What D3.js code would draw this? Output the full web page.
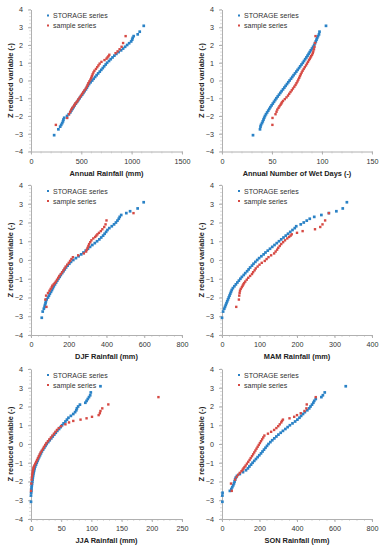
<!DOCTYPE html>
<html>
<head>
<meta charset="utf-8">
<script src="https://cdn.jsdelivr.net/npm/d3@7"></script>
<style>
  body { margin: 0; background: #fff; }
  svg { font-family: "Liberation Sans", Arial, sans-serif; }
  .tick text { fill: #333; font-size: 7.2px; }
  .axis path, .axis line { stroke: #b0b0b0; }
</style>
</head>
<body>
<div id="chart"></div>
<script>
// reduced variate (z) of each plotted point, shared by every panel
var zStorage = [-3.08, -2.75, -2.6, -2.5, -2.4, -2.3, -2.2, -2.1, -2.0, -1.9, -1.8, -1.7, -1.6, -1.5, -1.4, -1.3, -1.2, -1.1, -1.0,
  -0.9, -0.8, -0.7, -0.6, -0.5, -0.4, -0.3, -0.2, -0.1, 0, 0.1, 0.2, 0.3, 0.4, 0.5, 0.6, 0.7, 0.8, 0.9, 1.0,
  1.1, 1.2, 1.3, 1.4, 1.5, 1.6, 1.7, 1.8, 1.9, 2.0, 2.1, 2.2, 2.3, 2.4, 2.5, 2.6, 2.75, 3.08];
var zSample = [-2.5, -2.11, -1.9, -1.76, -1.64, -1.54, -1.45, -1.37, -1.3, -1.23, -1.15, -1.05, -0.95, -0.85, -0.75,
  -0.65, -0.55, -0.45, -0.35, -0.25, -0.15, -0.05, 0.05, 0.15, 0.25, 0.35, 0.45, 0.55, 0.65, 0.75, 0.85, 0.95,
  1.05, 1.15, 1.23, 1.3, 1.37, 1.45, 1.54, 1.64, 1.76, 1.9, 2.11, 2.5];

// Annual rainfall (mm)
var annualStorage = [230, 272, 290, 300, 310, 318, 322, 330, 358, 375, 390, 400, 412, 423, 434, 445, 458, 470, 483,
  495, 508, 520, 532, 545, 555, 565, 577, 592, 608, 622, 637, 652, 667, 683, 698, 713, 727, 742, 756,
  775, 792, 810, 828, 848, 870, 895, 915, 935, 955, 975, 995, 1005, 1010, 1020, 1060, 1080, 1120];
var annualSample = [247, 360, 378, 390, 400, 410, 425, 432, 440, 452, 462, 472, 485, 497, 508,
  520, 532, 545, 555, 563, 570, 580, 590, 598, 605, 612, 620, 630, 645, 658, 670, 682,
  700, 730, 750, 760, 770, 778, 840, 860, 880, 900, 915, 940];

// Annual number of wet days
var wetStorage = [31, 38, 38.5, 39, 40, 40.8, 41.5, 42.2, 43, 44, 45.1, 46.2, 47.3, 48.4, 49.6, 50.8, 52, 53.2, 54.4,
  55.7, 57, 58.3, 59.6, 61, 62.3, 63.6, 65, 66.3, 67.6, 69, 70.3, 71.6, 73, 74.3, 75.6, 77, 78.2, 79.5, 80.8,
  82, 83.2, 84.4, 85.5, 86.6, 87.7, 88.8, 90, 91.1, 92.2, 93, 93.8, 94.5, 95.2, 96, 97, 97.5, 104];
var wetSample = [50.4, 50.5, 53.5, 54.5, 55.3, 56.5, 57.5, 58.5, 59.3, 60, 61, 62.8, 64.5, 66, 67.2,
  68.5, 69.8, 71, 72.3, 73.5, 74.5, 75.5, 76.3, 77.2, 78, 78.8, 79.7, 80.6, 81.7, 82.8, 84, 85,
  86, 87, 87.8, 88.5, 89.2, 90, 90.8, 91.3, 92, 92.5, 93, 93.5];

// DJF rainfall (mm)
var djfStorage = [57, 62, 68, 72, 74, 77, 79, 83, 90, 95, 100, 106, 111, 116, 121, 127, 133, 139, 145,
  152, 158, 165, 172, 179, 186, 194, 203, 212, 224, 238, 252, 266, 278, 290, 302, 313, 325, 338, 350,
  362, 372, 382, 390, 398, 405, 415, 428, 440, 450, 458, 465, 470, 478, 505, 525, 565, 597];
var djfSample = [82, 76, 80, 90, 98, 104, 110, 113, 120, 126, 132, 138, 144, 150, 158,
  165, 172, 178, 184, 192, 200, 207, 214, 222, 250, 280, 292, 296, 300, 304, 308, 314,
  320, 330, 340, 346, 352, 360, 370, 378, 388, 395, 400, 543];

// MAM rainfall (mm)
var mamStorage = [0, 3, 6, 8, 10, 12, 14, 16, 18, 20, 22, 24, 26, 29, 33, 37, 41, 45, 49,
  53, 58, 62, 67, 71, 75, 80, 84, 89, 94, 99, 105, 111, 116, 122, 128, 134, 140, 146, 152,
  158, 164, 170, 176, 182, 188, 194, 198, 210, 218, 226, 234, 246, 265, 285, 305, 322, 333];
var mamSample = [38, 45, 46, 47, 48, 50, 53, 55, 57, 59, 62, 66, 70, 75, 80,
  83, 87, 90, 95, 100, 106, 114, 119, 124, 131, 139, 143, 147, 150, 154, 158, 163,
  168, 174, 179, 183, 186, 200, 215, 248, 262, 268, 275, 285];

// JJA rainfall (mm)
var jjaStorage = [0, 0, 0.3, 0.6, 0.8, 1, 1.4, 1.8, 2.2, 2.6, 3, 3.4, 4, 4.6, 5.3, 6, 7, 8.3, 9.5,
  10.8, 12, 13.5, 15, 16.5, 18, 20, 22, 24, 26, 28.5, 31, 33.5, 36, 38.5, 41, 43.5, 46.5, 49, 51.5,
  54, 57, 59.5, 62, 66, 70, 73, 75, 76, 78, 81, 90, 92, 94, 96, 98, 99, 115];
var jjaSample = [0, 0.5, 1, 1.5, 2, 2.5, 3, 3.5, 4, 4.5, 5.5, 7, 8.5, 10, 11.5,
  13, 14.5, 16, 18, 20, 21.5, 23.5, 25.5, 28, 30.5, 33, 35.5, 38, 40.5, 43, 46, 50,
  57, 63, 70, 82, 92, 101, 112, 114, 115, 118, 128, 211];

// SON rainfall (mm)
var sonStorage = [2, 2, 3, 42, 50, 55, 60, 64, 67, 70, 73, 80, 95, 112, 128, 138, 146, 155, 163,
  172, 181, 190, 199, 208, 216, 224, 232, 240, 248, 258, 268, 279, 290, 301, 313, 325, 338, 350, 362,
  376, 390, 402, 413, 422, 432, 442, 455, 465, 472, 480, 487, 492, 500, 530, 538, 548, 660];
var sonSample = [52, 48, 70, 78, 86, 95, 104, 110, 115, 120, 126, 133, 140, 147, 153,
  160, 166, 172, 178, 184, 190, 196, 202, 208, 214, 220, 226, 245, 262, 278, 290, 300,
  308, 316, 320, 325, 360, 385, 400, 420, 440, 450, 452, 500];

var yTicks = [-4, -3, -2, -1, 0, 1, 2, 3, 4];
var seriesNames = ["STORAGE series", "sample series"];
var seriesColors = ["#2a82c6", "#d64a44"];

var panels = [
  {title: "Annual Rainfall (mm)", max: 1500, step: 500, storage: annualStorage, sample: annualSample, col: 0, row: 0},
  {title: "Annual Number of Wet Days (-)", max: 150, step: 50, storage: wetStorage, sample: wetSample, col: 1, row: 0},
  {title: "DJF Rainfall (mm)", max: 800, step: 200, storage: djfStorage, sample: djfSample, col: 0, row: 1},
  {title: "MAM Rainfall (mm)", max: 400, step: 100, storage: mamStorage, sample: mamSample, col: 1, row: 1},
  {title: "JJA Rainfall (mm)", max: 250, step: 50, storage: jjaStorage, sample: jjaSample, col: 0, row: 2},
  {title: "SON Rainfall (mm)", max: 800, step: 200, storage: sonStorage, sample: sonSample, col: 1, row: 2}
];

// plot areas of the grid
var colX = [[31, 182], [222, 372]];
var rowY = [[9.5, 151.5], [185, 335], [369, 519]];

var svg = d3.select("#chart").append("svg")
    .attr("width", 385)
    .attr("height", 550);

panels.forEach(function(p) {
  var x0 = colX[p.col][0], x1 = colX[p.col][1];
  var y0 = rowY[p.row][0], y1 = rowY[p.row][1];

  var x = d3.scaleLinear().domain([0, p.max]).range([x0, x1]);
  var y = d3.scaleLinear().domain([-4, 4]).range([y1, y0]);
  var xTicks = d3.range(0, p.max + p.step / 2, p.step);
  var xMinor = d3.range(0, p.max + p.step / 10, p.step / 5);
  var yMinor = d3.range(-4, 4.01, 0.2);

  var g = svg.append("g");

  // minor ticks
  g.append("g").selectAll("line").data(xMinor).enter().append("line")
      .attr("x1", function(d) { return x(d); }).attr("x2", function(d) { return x(d); })
      .attr("y1", y1).attr("y2", y1 + 2)
      .attr("stroke", "#c8c8c8").attr("stroke-width", 0.6);
  g.append("g").selectAll("line").data(yMinor).enter().append("line")
      .attr("y1", function(d) { return y(d); }).attr("y2", function(d) { return y(d); })
      .attr("x1", x0 - 2).attr("x2", x0)
      .attr("stroke", "#c8c8c8").attr("stroke-width", 0.6);

  // X axis
  g.append("g")
      .attr("class", "axis")
      .attr("transform", "translate(0," + y1 + ")")
      .call(d3.axisBottom(x).tickValues(xTicks).tickFormat(d3.format("d"))
        .tickSize(3).tickSizeOuter(0).tickPadding(4));

  // Y axis
  g.append("g")
      .attr("class", "axis")
      .attr("transform", "translate(" + x0 + ",0)")
      .call(d3.axisLeft(y).tickValues(yTicks).tickSize(3).tickSizeOuter(0).tickPadding(5));

  // axis titles
  g.append("text")
      .attr("x", (x0 + x1) / 2)
      .attr("y", y1 + 24)
      .attr("text-anchor", "middle")
      .style("font-size", "7.4px")
      .style("font-weight", "bold")
      .style("fill", "#222")
      .text(p.title);

  g.append("text")
      .attr("transform", "rotate(-90)")
      .attr("x", -(y0 + y1) / 2)
      .attr("y", x0 - 18)
      .attr("text-anchor", "middle")
      .style("font-size", "7.4px")
      .style("font-weight", "bold")
      .style("fill", "#222")
      .text("Z reduced variable (-)");

  // points
  var sets = [
    {vals: p.storage, z: zStorage, color: seriesColors[0], s: 2.7},
    {vals: p.sample, z: zSample, color: seriesColors[1], s: 2.4}
  ];
  sets.forEach(function(s) {
    g.append("g").selectAll("rect")
        .data(s.vals)
        .enter().append("rect")
        .attr("x", function(d) { return x(d) - s.s / 2; })
        .attr("y", function(d, i) { return y(s.z[i]) - s.s / 2; })
        .attr("width", s.s)
        .attr("height", s.s)
        .attr("fill", s.color);
  });

  // legend
  var lg = g.append("g")
      .attr("transform", "translate(" + (x0 + 17) + "," + (y0 + 6) + ")");
  seriesNames.forEach(function(name, i) {
    lg.append("rect")
        .attr("x", -1).attr("y", i * 10 - 1)
        .attr("width", 2).attr("height", 2)
        .attr("fill", seriesColors[i]);
    lg.append("text")
        .attr("x", 5).attr("y", i * 10 + 2.5)
        .style("font-size", "7px")
        .style("fill", "#333")
        .text(name);
  });
});
</script>
</body>
</html>
